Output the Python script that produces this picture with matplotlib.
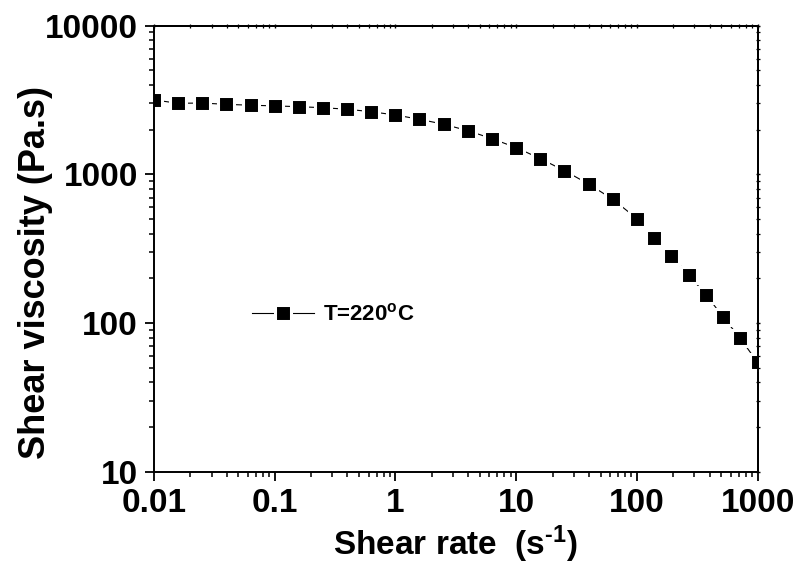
import matplotlib
matplotlib.use("Agg")
import matplotlib.pyplot as plt
from matplotlib.ticker import LogLocator, NullFormatter

plt.rcParams['font.family'] = ['Liberation Sans', 'DejaVu Sans']
plt.rcParams['font.weight'] = 'bold'
plt.rcParams['mathtext.fontset'] = 'custom'
plt.rcParams['mathtext.rm'] = 'Liberation Sans:bold'
plt.rcParams['mathtext.bf'] = 'Liberation Sans:bold'
plt.rcParams['mathtext.it'] = 'Liberation Sans:bold'

# Data
shear_rate = [0.01, 0.0158, 0.0251, 0.0398, 0.0631, 0.1, 0.158, 0.251, 0.398, 0.631,
              1.0, 1.58, 2.51, 3.98, 6.31, 10.0, 15.8, 25.1, 39.8, 63.1,
              100.0, 139.0, 193.0, 268.0, 373.0, 518.0, 720.0, 1000.0]
viscosity = [3170, 3010, 3020, 2960, 2920, 2890, 2855, 2810, 2745, 2640,
             2510, 2350, 2175, 1970, 1740, 1515, 1280, 1060, 863, 681,
             505, 376, 285, 211, 156, 110, 79, 54.5]
series_label = 'T=220$^{o}$C'

x_ticks = [0.01, 0.1, 1, 10, 100, 1000]
x_ticklabels = ['0.01', '0.1', '1', '10', '100', '1000']
y_ticks = [10, 100, 1000, 10000]
y_ticklabels = ['10', '100', '1000', '10000']

fig = plt.figure(figsize=(8.0, 5.67), dpi=100)
ax = fig.add_axes([0.1925, 0.1675, 0.7545, 0.7872])

ax.plot(shear_rate, viscosity, color='black', lw=0.8, marker='s',
        markersize=11.7, markerfacecolor='black', markeredgecolor='white',
        markeredgewidth=2.2, label=series_label)

ax.set_xscale('log')
ax.set_yscale('log')
ax.set_xlim(0.01, 1000)
ax.set_ylim(10, 10000)

ax.set_xticks(x_ticks)
ax.set_xticklabels(x_ticklabels)
ax.set_yticks(y_ticks)
ax.set_yticklabels(y_ticklabels)
ax.xaxis.set_minor_locator(LogLocator(base=10, subs=range(2, 10)))
ax.yaxis.set_minor_locator(LogLocator(base=10, subs=range(2, 10)))
ax.xaxis.set_minor_formatter(NullFormatter())
ax.yaxis.set_minor_formatter(NullFormatter())

for s in ax.spines.values():
    s.set_linewidth(1.4)

ax.tick_params(which='major', direction='out', length=6.5, width=1.3,
               labelsize=24, pad=5)
ax.tick_params(which='minor', direction='out', length=3.5, width=1.1)

# mirrored small ticks on top and right
secx = ax.secondary_xaxis('top')
secx.set_xticks(x_ticks)
secx.xaxis.set_minor_locator(LogLocator(base=10, subs=range(2, 10)))
secx.tick_params(which='major', direction='inout', length=3.5, width=1.0, labeltop=False)
secx.tick_params(which='minor', direction='inout', length=2.5, width=0.9)
secx.xaxis.set_minor_formatter(NullFormatter())
secx.spines['top'].set_linewidth(1.4)
secy = ax.secondary_yaxis('right')
secy.set_yticks(y_ticks)
secy.yaxis.set_minor_locator(LogLocator(base=10, subs=range(2, 10)))
secy.tick_params(which='major', direction='inout', length=3.5, width=1.0, labelright=False)
secy.tick_params(which='minor', direction='inout', length=2.5, width=0.9)
secy.yaxis.set_minor_formatter(NullFormatter())
secy.spines['right'].set_linewidth(1.4)

ax.set_xlabel(r'Shear rate  (s$^{\text{-1}}$)', fontsize=24, fontweight='bold')
ax.set_ylabel('Shear viscosity (Pa.s)', fontsize=26, fontweight='bold')
ax.yaxis.set_label_coords(-0.168, 0.446)
ax.xaxis.set_label_coords(0.5, -0.115)

leg = ax.legend(loc='center left', bbox_to_anchor=(0.163, 0.353), frameon=False,
                handlelength=3.4 * 13 / 16, handletextpad=0.4,
                borderpad=0, borderaxespad=0, prop={'weight': 'bold', 'size': 16})

fig.savefig('out.png', dpi=100)
